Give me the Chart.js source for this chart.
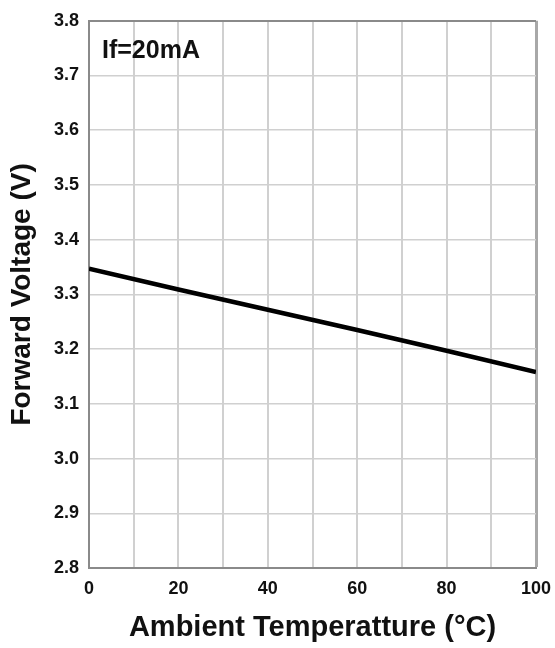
<!DOCTYPE html>
<html>
<head>
<meta charset="utf-8">
<script src="https://cdn.jsdelivr.net/npm/chart.js@4"></script>
<style>
  html, body { margin: 0; padding: 0; background: #fff; }
  #wrap { width: 555px; height: 648px; }
</style>
</head>
<body>
<div id="wrap"><canvas id="c" width="555" height="648"></canvas></div>
<script>
// values
const temps = [0, 20, 40, 60, 80, 100];          // ambient temperature (°C)
const vf = [3.347, 3.309, 3.272, 3.235, 3.197, 3.158]; // forward voltage (V)
const xLabels = [0, 20, 40, 60, 80, 100];
const note = 'If=20mA';

const FONT = '"Liberation Sans", Arial, sans-serif';
const GRID = '#d0d0d0';
const EDGE = '#8a8a8a';

// small text label inside the plot
const notePlugin = {
  id: 'note',
  afterDraw(chart) {
    const { ctx, chartArea } = chart;
    ctx.save();
    ctx.font = 'bold 25px ' + FONT;
    ctx.fillStyle = '#111';
    ctx.textBaseline = 'middle';
    ctx.fillText(note, chartArea.left + 13, chartArea.top + 30);
    ctx.restore();
  }
};

new Chart(document.getElementById('c'), {
  type: 'line',
  data: {
    datasets: [{
      data: temps.map((t, i) => ({ x: t, y: vf[i] })),
      borderColor: '#000',
      borderWidth: 4.5,
      pointRadius: 0,
      tension: 0,
      fill: false
    }]
  },
  options: {
    responsive: false,
    animation: false,
    devicePixelRatio: 1,
    layout: { padding: { top: 20, right: 19, left: 0, bottom: 0 } },
    plugins: { legend: { display: false }, tooltip: { enabled: false } },
    scales: {
      x: {
        type: 'linear',
        min: 0, max: 100,
        afterFit(s) { s.height = 80; s.paddingLeft = 0; s.paddingRight = 0; },
        ticks: {
          stepSize: 10,
          padding: 10,
          color: '#111',
          font: { family: FONT, size: 18, weight: 'bold' },
          callback: v => xLabels.includes(v) ? String(v) : ''
        },
        grid: {
          drawTicks: false,
          color: c => c.tick && c.tick.value === 100 ? '#a8a8a8' : GRID,
          lineWidth: c => c.tick && c.tick.value === 100 ? 3 : 2
        },
        border: { color: EDGE, width: 2 },
        title: {
          display: true,
          text: 'Ambient Temperatture (°C)',
          color: '#111',
          font: { family: FONT, size: 29, weight: 'bold' },
          padding: { top: 0, bottom: 3 }
        }
      },
      y: {
        min: 2.8, max: 3.8,
        afterFit(s) { s.width = 89; },
        ticks: {
          stepSize: 0.1,
          padding: 10,
          color: '#111',
          font: { family: FONT, size: 18, weight: 'bold' },
          callback: v => v.toFixed(1)
        },
        grid: {
          drawTicks: false,
          color: c => c.tick && Math.abs(c.tick.value - 3.8) < 1e-6 ? EDGE : GRID,
          lineWidth: c => c.tick && Math.abs(c.tick.value - 3.8) < 1e-6 ? 2 : 1.5
        },
        border: { color: EDGE, width: 2 },
        title: {
          display: true,
          text: 'Forward Voltage (V)',
          color: '#111',
          font: { family: FONT, size: 28, weight: 'bold' },
          padding: { top: 5, bottom: 0 }
        }
      }
    }
  },
  plugins: [notePlugin]
});
</script>
</body>
</html>
